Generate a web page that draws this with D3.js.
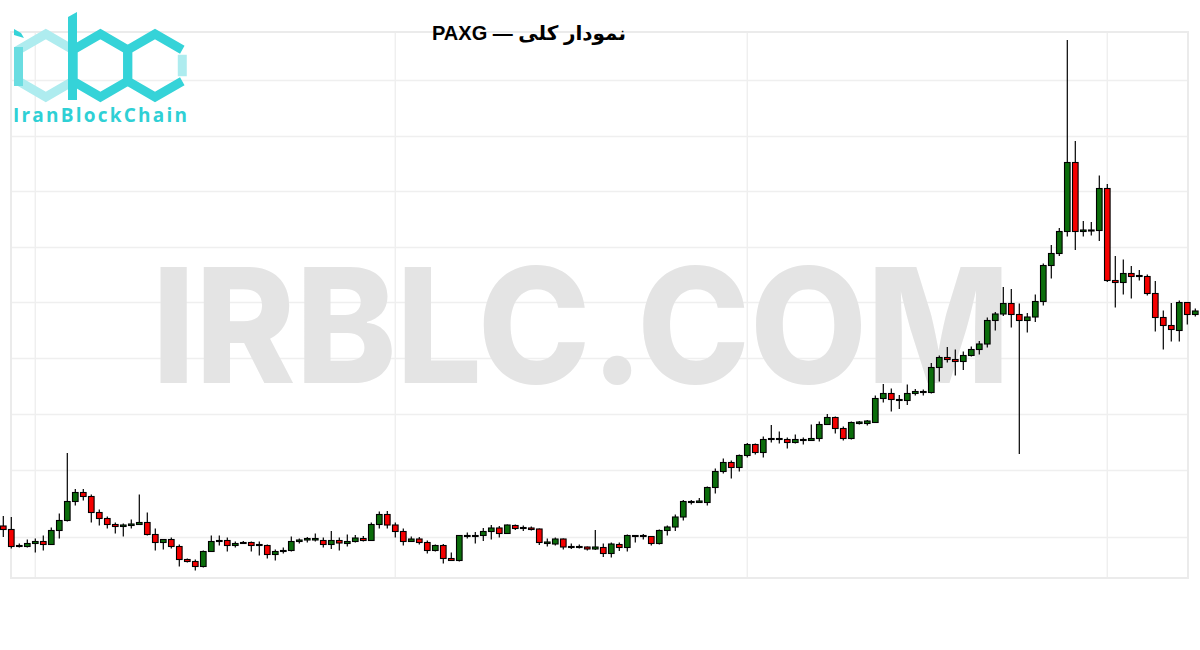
<!DOCTYPE html>
<html>
<head>
<meta charset="utf-8">
<script src="https://cdn.jsdelivr.net/npm/d3@7"></script>
<style>
  body { margin: 0; background: #fff; }
  svg { display: block; }
</style>
</head>
<body>
<div id="chart"></div>
<script>
// candle values (open / high / low / close), one per bar
var opens = [1148,1141,1107,1107,1113,1117,1111,1139,1159,1197,
    1215,1207,1175,1163,1151,1147,1149,1151,1155,1131,
    1115,1121,1107,1081,1077,1067,1097,1117,1119,1109,
    1113,1115,1111,1109,1091,1097,1099,1117,1120,1120,
    1119,1111,1119,1113,1117,1123,1119,1151,1171,1150,
    1137,1117,1122,1115,1099,1109,1083,1079,1127,1127,
    1129,1137,1144,1133,1149,1143,1144,1142,1113,1112,
    1122,1105,1105,1106,1102,1105,1093,1111,1105,1127,
    1127,1127,1113,1139,1146,1166,1195,1195,1195,1225,
    1257,1275,1265,1289,1311,1295,1321,1321,1321,1315,
    1319,1319,1323,1351,1365,1343,1323,1353,1353,1355,
    1403,1413,1401,1399,1413,1415,1415,1465,1485,1481,
    1477,1489,1501,1512,1559,1572,1593,1571,1559,1566,
    1597,1669,1693,1737,1875,1737,1738,1739,1823,1639,
    1635,1653,1647,1647,1613,1565,1549,1539,1595,1571];

var highs = [1168,1166,1113,1121,1123,1129,1145,1173,1294,1222,
    1222,1211,1181,1167,1155,1153,1161,1211,1175,1143,
    1122,1125,1111,1083,1081,1099,1129,1129,1125,1117,
    1118,1117,1117,1111,1101,1105,1127,1123,1126,1133,
    1125,1138,1125,1131,1130,1128,1155,1177,1178,1155,
    1143,1127,1126,1119,1111,1112,1095,1130,1135,1136,
    1144,1150,1148,1151,1151,1149,1147,1143,1123,1125,
    1123,1113,1111,1107,1140,1113,1115,1115,1131,1130,
    1132,1128,1141,1149,1171,1200,1200,1204,1227,1263,
    1283,1279,1291,1314,1313,1327,1350,1337,1325,1331,
    1325,1351,1357,1372,1367,1347,1357,1358,1360,1409,
    1432,1423,1410,1431,1422,1421,1474,1489,1506,1501,
    1497,1507,1518,1565,1576,1626,1622,1593,1574,1611,
    1673,1710,1744,2120,1918,1758,1756,1849,1832,1688,
    1681,1668,1660,1651,1638,1579,1594,1599,1596,1583];

var lows = [1126,1103,1105,1105,1095,1099,1110,1123,1157,1189,
    1199,1155,1149,1143,1133,1127,1143,1150,1129,1099,
    1101,1103,1067,1075,1059,1065,1096,1109,1097,1105,
    1112,1097,1089,1083,1079,1093,1097,1113,1115,1117,
    1105,1102,1099,1107,1115,1117,1118,1143,1143,1125,
    1109,1116,1111,1093,1097,1073,1078,1077,1123,1113,
    1118,1121,1125,1132,1140,1138,1139,1110,1107,1109,
    1101,1102,1103,1099,1100,1086,1085,1098,1097,1115,
    1121,1109,1111,1129,1138,1159,1191,1194,1189,1213,
    1253,1243,1257,1285,1291,1285,1315,1313,1303,1313,
    1311,1318,1317,1350,1333,1319,1321,1351,1349,1354,
    1395,1377,1382,1390,1409,1409,1413,1437,1475,1449,
    1460,1487,1491,1505,1539,1568,1545,1292,1535,1556,
    1589,1643,1688,1727,1700,1727,1729,1718,1636,1585,
    1611,1603,1639,1609,1537,1501,1517,1517,1551,1567];

var closes = [1141,1107,1109,1113,1117,1111,1139,1159,1197,1215,
    1207,1175,1163,1151,1147,1150,1152,1155,1131,1115,
    1121,1107,1081,1077,1067,1097,1117,1119,1109,1113,
    1115,1109,1109,1091,1097,1099,1117,1120,1123,1123,
    1111,1119,1114,1117,1124,1119,1151,1171,1150,1137,
    1117,1122,1115,1099,1109,1083,1079,1129,1129,1129,
    1137,1144,1133,1150,1143,1145,1141,1115,1116,1122,
    1106,1107,1107,1102,1106,1093,1112,1105,1129,1129,
    1129,1113,1139,1146,1166,1197,1197,1198,1225,1257,
    1275,1265,1289,1311,1295,1321,1323,1323,1315,1321,
    1321,1323,1351,1365,1343,1323,1355,1356,1358,1403,
    1413,1401,1399,1413,1417,1417,1465,1485,1481,1477,
    1489,1501,1512,1559,1572,1593,1571,1559,1566,1597,
    1669,1693,1737,1875,1737,1740,1740,1823,1639,1635,
    1653,1647,1649,1613,1565,1549,1541,1595,1571,1578];

var gridPrices = [2040, 1928, 1818, 1706, 1596, 1484, 1372, 1260, 1126];
var gridCandles = [4, 49, 93, 138];

var title = "نمودار کلی — PAXG";
var watermark = "IRBLC.COM";
var logoText = "IranBlockChain";

var data = opens.map(function(o, i) {
    return {i: i, open: o, high: highs[i], low: lows[i], close: closes[i]};
});

var width = 1200, height = 650;
var frame = {left: 11, right: 1188, top: 32, bottom: 578};

var upColor = "#0b6d0b",
    downColor = "#f50000";

var svg = d3.select("#chart")
    .append("svg")
        .attr("width", width)
        .attr("height", height);

var x = d3.scaleBand()
    .domain(d3.range(data.length))
    .range([-0.7, 1199.3]);

var y = d3.scaleLinear()
    .domain([1044, 2140])
    .range([578, 30]);

// faint grid
svg.append("g")
    .attr("class", "grid")
    .attr("transform", "translate(" + frame.left + ",0)")
    .call(d3.axisLeft(y)
        .tickValues(gridPrices)
        .tickSize(-(frame.right - frame.left))
        .tickFormat(""));

svg.append("g")
    .attr("class", "grid")
    .attr("transform", "translate(0," + frame.bottom + ")")
    .call(d3.axisBottom(x)
        .tickValues(gridCandles)
        .tickSize(-(frame.bottom - frame.top))
        .tickFormat(""));

svg.selectAll(".grid .domain").remove();
svg.selectAll(".grid line")
    .attr("stroke", "#efefef")
    .attr("stroke-width", 1.5);

svg.append("rect")
    .attr("x", frame.left)
    .attr("y", frame.top)
    .attr("width", frame.right - frame.left)
    .attr("height", frame.bottom - frame.top)
    .attr("fill", "none")
    .attr("stroke", "#ebebeb")
    .attr("stroke-width", 2);

// watermark
svg.append("text")
    .attr("x", 152)
    .attr("y", 383)
    .attr("textLength", 858)
    .attr("lengthAdjust", "spacingAndGlyphs")
    .style("font-family", "Inter, 'Open Sans', sans-serif")
    .style("font-weight", 800)
    .style("font-size", "160px")
    .style("fill", "#e4e4e4")
    .text(watermark);

// candles
var candles = svg.append("g")
    .selectAll("g")
    .data(data)
    .enter().append("g");

candles.append("line")
    .attr("x1", function(d) { return x(d.i) + x.bandwidth() / 2; })
    .attr("x2", function(d) { return x(d.i) + x.bandwidth() / 2; })
    .attr("y1", function(d) { return y(d.high); })
    .attr("y2", function(d) { return y(d.low); })
    .attr("stroke", "#000")
    .attr("stroke-width", 1.2);

candles.append("rect")
    .attr("x", function(d) { return x(d.i) + x.bandwidth() / 2 - 2.8; })
    .attr("y", function(d) { return y(Math.max(d.open, d.close)); })
    .attr("width", 5.6)
    .attr("height", function(d) { return Math.max(0.8, Math.abs(y(d.open) - y(d.close))); })
    .attr("fill", function(d) { return d.close >= d.open ? upColor : downColor; })
    .attr("stroke", "#000")
    .attr("stroke-width", 1.1);

// title
svg.append("text")
    .attr("x", 529)
    .attr("y", 40)
    .attr("direction", "rtl")
    .attr("text-anchor", "middle")
    .style("font-family", "'Liberation Sans', Arial, 'DejaVu Sans', sans-serif")
    .style("font-weight", "bold")
    .style("font-size", "20px")
    .style("fill", "#000")
    .text(title);

// logo
var dark = "#35d3d8", light = "#aeecef", mid = "#6adde1";
var hexR = 31.5, hexY = 65.5;

var hexPoints = function(cx) {
    return d3.range(6).map(function(k) {
        var a = Math.PI / 180 * (60 * k - 90);
        return [cx + hexR * Math.cos(a), hexY + hexR * Math.sin(a)];
    });
};
var line = d3.line();
var logo = svg.append("g").attr("class", "logo");

var hi = hexPoints(45.8), hb = hexPoints(100.4), hc = hexPoints(155);

logo.append("path")
    .attr("d", line(hi) + "Z")
    .attr("fill", "none").attr("stroke", light).attr("stroke-width", 9);
logo.append("path")
    .attr("d", line([[hi[5][0], 47], [hi[5][0], 86]]))
    .attr("stroke", mid).attr("stroke-width", 9);
logo.append("path")
    .attr("d", line([[14, 29], [21, 33], [24, 38], [14, 35]]) + "Z")
    .attr("fill", dark);

logo.append("path")
    .attr("d", line(hb) + "Z")
    .attr("fill", "none").attr("stroke", dark).attr("stroke-width", 9);
logo.append("path")
    .attr("d", line([[68, 17], [77, 12], [77, 100], [68, 100]]) + "Z")
    .attr("fill", dark);

logo.append("path")
    .attr("d", line([hc[1], hc[0], hc[5], hc[4], hc[3], hc[2]]))
    .attr("fill", "none").attr("stroke", dark).attr("stroke-width", 9)
    .attr("stroke-linejoin", "miter");
logo.append("path")
    .attr("d", line([[hc[1][0], hc[1][1] + 5], [hc[2][0], hc[2][1] - 5]]))
    .attr("stroke", light).attr("stroke-width", 9);

logo.append("text")
    .attr("x", 13)
    .attr("y", 122)
    .attr("textLength", 174)
    .attr("lengthAdjust", "spacing")
    .style("font-family", "'Open Sans', 'DejaVu Sans', sans-serif")
    .style("font-weight", "bold")
    .style("font-size", "19px")
    .style("fill", "#2fd0d5")
    .text(logoText);
</script>
</body>
</html>
